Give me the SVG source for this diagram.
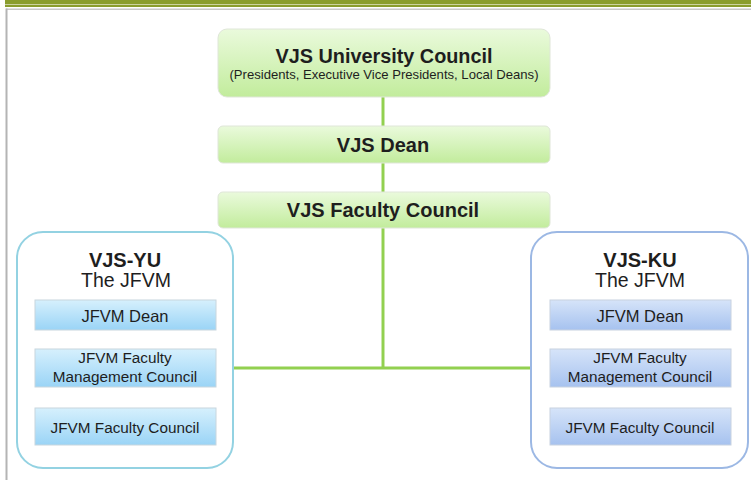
<svg xmlns="http://www.w3.org/2000/svg" width="751" height="480" viewBox="0 0 751 480">
<defs>
<linearGradient id="gGreen" x1="0" y1="0" x2="0" y2="1">
<stop offset="0" stop-color="#eafadc"/>
<stop offset="1" stop-color="#c2ec9c"/>
</linearGradient>
<linearGradient id="gCyan" x1="0" y1="0" x2="0" y2="1">
<stop offset="0" stop-color="#d6f0fd"/>
<stop offset="1" stop-color="#9ad4f6"/>
</linearGradient>
<linearGradient id="gBlue" x1="0" y1="0" x2="0" y2="1">
<stop offset="0" stop-color="#d6e4f9"/>
<stop offset="1" stop-color="#a6c2ef"/>
</linearGradient>
</defs>
<style>
.t{font-family:"Liberation Sans",Arial,sans-serif;fill:#1e1e1e;text-anchor:middle}
.b{font-weight:bold}
.gbox{fill:url(#gGreen);stroke:#dfe6d8;stroke-width:1}
.cbox{fill:url(#gCyan);stroke:#c8d6de;stroke-width:1}
.bbox{fill:url(#gBlue);stroke:#c8d2e0;stroke-width:1}
.green{stroke:#92d050;stroke-width:3;fill:none}
.teal{stroke:#3aa6b9;stroke-width:2.5;fill:none}
.navy{stroke:#4a72b0;stroke-width:2.5;fill:none}
</style>
<rect width="751" height="480" fill="#ffffff"/>
<rect x="5" y="0" width="746" height="4.3" fill="#8a9d2e"/>
<rect x="5" y="4.8" width="746" height="2.2" fill="#8a9d2e"/>
<rect x="6" y="8.5" width="745" height="1.5" fill="#c8c8c8"/>
<rect x="5.5" y="8.5" width="2" height="472" fill="#b4b4b4"/>

<g id="connectors">
<line class="green" x1="383" y1="97" x2="383" y2="126"/>
<line class="green" x1="383" y1="163" x2="383" y2="192"/>
<line class="green" x1="383" y1="228" x2="383" y2="368"/>
<line class="green" x1="234" y1="368" x2="531" y2="368"/>
<line class="teal" x1="125" y1="330" x2="125" y2="349"/>
<line class="teal" x1="125" y1="387" x2="125" y2="408"/>
<line class="navy" x1="640" y1="330" x2="640" y2="349"/>
<line class="navy" x1="640" y1="387" x2="640" y2="408"/>
</g>

<g id="university-council">
<rect class="gbox" x="218" y="29" width="332" height="68" rx="9"/>
<text class="t b" x="384" y="63" font-size="20" textLength="217" lengthAdjust="spacingAndGlyphs">VJS University Council</text>
<text class="t" x="384" y="79" font-size="13" textLength="309" lengthAdjust="spacingAndGlyphs">(Presidents, Executive Vice Presidents, Local Deans)</text>
</g>
<g id="vjs-dean">
<rect class="gbox" x="218" y="126" width="332" height="37" rx="5"/>
<text class="t b" x="383" y="152" font-size="20">VJS Dean</text>
</g>
<g id="vjs-faculty-council">
<rect class="gbox" x="218" y="192" width="332" height="36" rx="5"/>
<text class="t b" x="383" y="217" font-size="20">VJS Faculty Council</text>
</g>

<g id="vjs-yu">
<rect x="17" y="232" width="216" height="236" rx="26" fill="#ffffff" stroke="#93d2e2" stroke-width="2"/>
<text class="t b" x="125" y="267" font-size="20">VJS-YU</text>
<text class="t" x="126" y="287" font-size="19.5">The JFVM</text>
</g>
<g id="yu-dean">
<rect class="cbox" x="35" y="300" width="181" height="30"/>
<text class="t" x="125" y="322" font-size="16.5">JFVM Dean</text>
</g>
<g id="yu-management">
<rect class="cbox" x="35" y="349" width="181" height="38"/>
<text class="t" x="125" y="363" font-size="15.3">JFVM Faculty</text>
<text class="t" x="125" y="382" font-size="15.3">Management Council</text>
</g>
<g id="yu-faculty-council">
<rect class="cbox" x="35" y="408" width="181" height="37"/>
<text class="t" x="125" y="433" font-size="15.3">JFVM Faculty Council</text>
</g>

<g id="vjs-ku">
<rect x="531" y="232" width="217" height="236" rx="26" fill="#ffffff" stroke="#9cb8e4" stroke-width="2"/>
<text class="t b" x="640" y="267" font-size="20">VJS-KU</text>
<text class="t" x="640" y="287" font-size="19.5">The JFVM</text>
</g>
<g id="ku-dean">
<rect class="bbox" x="550" y="300" width="181" height="30"/>
<text class="t" x="640" y="322" font-size="16.5">JFVM Dean</text>
</g>
<g id="ku-management">
<rect class="bbox" x="550" y="349" width="181" height="38"/>
<text class="t" x="640" y="363" font-size="15.3">JFVM Faculty</text>
<text class="t" x="640" y="382" font-size="15.3">Management Council</text>
</g>
<g id="ku-faculty-council">
<rect class="bbox" x="550" y="408" width="181" height="37"/>
<text class="t" x="640" y="433" font-size="15.3">JFVM Faculty Council</text>
</g>
</svg>
